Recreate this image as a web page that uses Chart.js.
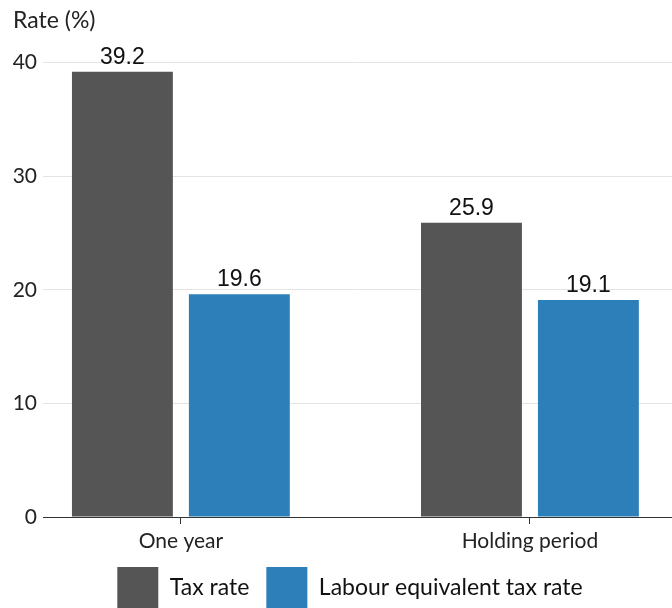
<!DOCTYPE html>
<html>
<head>
<meta charset="utf-8">
<script src="https://cdn.jsdelivr.net/npm/chart.js@4.4.1/dist/chart.umd.min.js"></script>
<style>
    html, body { margin: 0; padding: 0; background: #fff; }
    .wrap { width: 672px; height: 608px; }
</style>
</head>
<body>
<div class="wrap"><canvas id="rateChart"></canvas></div>
<script>
const categories = ["One year", "Holding period"];
const taxRate = [39.2, 25.9];
const labourEquivRate = [19.6, 19.1];
const yTicks = [0, 10, 20, 30, 40];

const seriesNames = ["Tax rate", "Labour equivalent tax rate"];
const seriesColors = ["#555555", "#2c7fb8"];

/* value printed above each bar */
const barValueLabels = {
    id: "barValueLabels",
    afterDatasetsDraw(chart) {
        const { ctx } = chart;
        ctx.save();
        ctx.font = '23px "Liberation Sans", Arial, sans-serif';
        ctx.fillStyle = "#111";
        ctx.textAlign = "center";
        ctx.textBaseline = "alphabetic";
        chart.data.datasets.forEach((ds, di) => {
            chart.getDatasetMeta(di).data.forEach((bar, i) => {
                ctx.fillText(ds.data[i].y.toFixed(1), bar.x, bar.y - 8);
            });
        });
        ctx.restore();
    },
};

/* nudge the legend block: a bit right and up, closer under the axis labels */
const legendNudge = {
    id: "legendNudge",
    afterLayout(chart) {
        const lg = chart.legend;
        if (!lg) return;
        lg.left += 15;
        lg.top -= 9;
        lg.bottom -= 9;
    },
};

const toPoints = (vals) => vals.map((v, i) => ({ x: i, y: v }));

const ctx = document.getElementById("rateChart").getContext("2d");
new Chart(ctx, {
    type: "bar",
    data: {
        datasets: [taxRate, labourEquivRate].map((vals, i) => ({
            label: seriesNames[i],
            data: toPoints(vals),
            backgroundColor: seriesColors[i],
            borderWidth: 0,
            categoryPercentage: 0.67,
            barPercentage: 0.863,
        })),
    },
    options: {
        responsive: true,
        maintainAspectRatio: false,
        animation: false,
        layout: { padding: { left: 13, right: 0, top: 0, bottom: -19 } },
        plugins: {
            title: {
                display: true,
                text: "Rate (%)",
                align: "start",
                color: "#222",
                font: { family: "Lato", size: 23, weight: "normal" },
                padding: { top: 7, bottom: 28 },
            },
            legend: {
                position: "bottom",
                labels: {
                    boxWidth: 41,
                    boxHeight: 41,
                    padding: 17,
                    color: "#111",
                    font: { family: "Lato", size: 23 },
                },
            },
            tooltip: { enabled: false },
        },
        scales: {
            x: {
                type: "linear",
                offset: false,
                min: -0.395,
                max: 1.407,
                afterBuildTicks: (scale) => {
                    scale.ticks = categories.map((_, i) => ({ value: i }));
                },
                ticks: {
                    callback: (v) => categories[v],
                    color: "#222",
                    padding: 7,
                    maxRotation: 0,
                    font: { family: "Lato", size: 21, lineHeight: 1 },
                },
                grid: {
                    offset: false,
                    drawOnChartArea: false,
                    drawTicks: true,
                    tickLength: 7,
                    color: "#333",
                },
                border: { display: true, color: "#333", width: 1 },
            },
            y: {
                min: 0,
                max: 40,
                afterBuildTicks: (scale) => {
                    scale.ticks = yTicks.map((v) => ({ value: v }));
                },
                afterFit: (scale) => { scale.width = 30; },
                ticks: {
                    color: "#222",
                    padding: 6,
                    font: { family: "Lato", size: 21 },
                },
                grid: {
                    drawTicks: false,
                    color: (c) => (c.tick && c.tick.value === 0 ? "rgba(0,0,0,0)" : "#e3e3e3"),
                },
                border: { display: false },
            },
        },
    },
    plugins: [barValueLabels, legendNudge],
});
</script>
</body>
</html>
